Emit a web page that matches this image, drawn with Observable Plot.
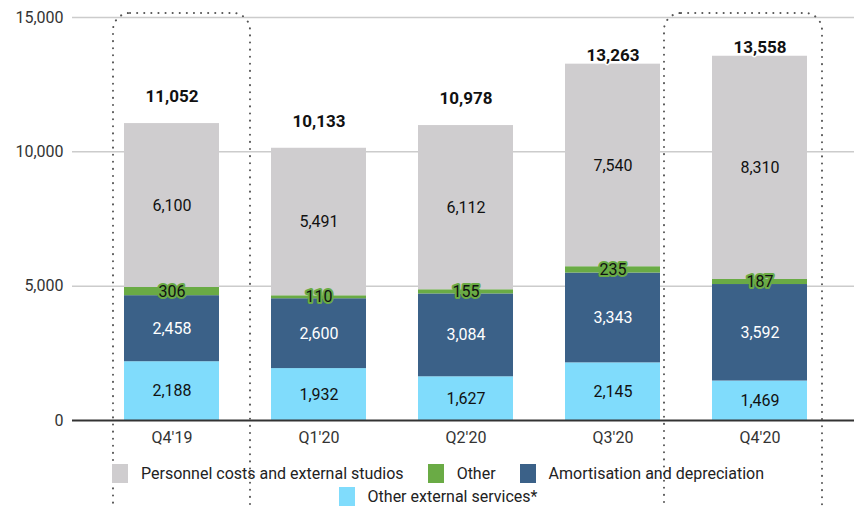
<!DOCTYPE html>
<html>
<head>
<meta charset="utf-8">
<script src="https://cdn.jsdelivr.net/npm/d3@7"></script>
<script src="https://cdn.jsdelivr.net/npm/@observablehq/plot@0.6"></script>
<style>
  body { margin: 0; background: #fff; font-family: Roboto, "Noto Sans", sans-serif; overflow: hidden; }
  #wrap { position: relative; width: 854px; height: 507px; }
  .legend { position: absolute; left: 0; width: 876px; display: flex; justify-content: center; gap: 24px; font-size: 16px; color: #222; }
  .item { display: flex; align-items: center; gap: 13px; white-space: nowrap; }
  .sw { width: 16px; height: 19px; display: inline-block; }
</style>
</head>
<body>
<div id="wrap"></div>
<script>
const quarters = ["Q4'19", "Q1'20", "Q2'20", "Q3'20", "Q4'20"];
const otherExternal = [2188, 1932, 1627, 2145, 1469];
const amortisation = [2458, 2600, 3084, 3343, 3592];
const otherCosts = [306, 110, 155, 235, 187];
const personnel = [6100, 5491, 6112, 7540, 8310];
const totals = [11052, 10133, 10978, 13263, 13558];
const seriesNames = ["Other external services*", "Amortisation and depreciation", "Other", "Personnel costs and external studios"];
const seriesColors = ["#80dcfc", "#3b6188", "#6aab45", "#cfcdcf"];
const legendOrder = ["Personnel costs and external studios", "Other", "Amortisation and depreciation", "Other external services*"];
const yTicks = [0, 5000, 10000, 15000];
const highlighted = ["Q4'19", "Q4'20"];

const seriesValues = [otherExternal, amortisation, otherCosts, personnel];
const rows = [];
seriesNames.forEach((s, si) => quarters.forEach((q, qi) => rows.push({s, q, v: seriesValues[si][qi]})));
const totalRows = quarters.map((q, i) => ({q, v: totals[i]}));
const fmt = d3.format(",");

// annotation box extent (data units)
const boxTop = 15150, boxBottom = -4000;

function labels(name, fill, extra = {}) {
  return Plot.text(rows, Plot.filter(d => d.s === name, Plot.stackY({
    x: "q", y: "v", z: "s", order: seriesNames,
    text: d => fmt(d.v),
    fill, fontSize: 16, ...extra
  })));
}

const chart = Plot.plot({
  width: 854,
  height: 507,
  marginLeft: 72,
  marginRight: 0,
  marginTop: 17,
  marginBottom: 87,
  style: {fontFamily: "Roboto, sans-serif", fontSize: "16px", color: "#333", background: "white"},
  x: {domain: quarters, range: [98, 833], paddingInner: 0.355, paddingOuter: 0.1775, label: null},
  y: {domain: [0, 15000], label: null},
  color: {domain: seriesNames, range: seriesColors},
  marks: [
    Plot.ruleY(yTicks.filter(d => d > 0), {stroke: "#cccccc", strokeWidth: 1.5}),
    Plot.axisY({ticks: yTicks, tickFormat: fmt, tickSize: 0, tickPadding: 9, fontSize: 16, fill: "#333", label: null}),
    Plot.axisX({tickSize: 0, tickPadding: 11, fontSize: 16, fill: "#333", label: null}),
    Plot.barY(rows, Plot.stackY({x: "q", y: "v", z: "s", fill: "s", order: seriesNames})),
    Plot.ruleY([0], {stroke: "#333", strokeWidth: 2}),
    labels("Other external services*", "#111"),
    labels("Amortisation and depreciation", "white"),
    labels("Other", "#111", {stroke: "#6aab45", strokeWidth: 4}),
    labels("Personnel costs and external studios", "#111"),
    Plot.text(totalRows, {x: "q", y: "v", text: d => fmt(d.v), filter: (d, i) => i < 3, dy: -27, fontSize: 17, fontWeight: "bold", fill: "#111", stroke: "white", strokeWidth: 3}),
    Plot.text(totalRows, {x: "q", y: "v", text: d => fmt(d.v), filter: (d, i) => i >= 3, dy: -9, fontSize: 17, fontWeight: "bold", fill: "#111", stroke: "white", strokeWidth: 3}),
    Plot.rect([highlighted[0]], {x: d => d, y1: boxBottom, y2: boxTop, insetLeft: -11, insetRight: -31, rx: 17, fill: "none", stroke: "#555", strokeWidth: 2, strokeDasharray: "0.1 7", strokeLinecap: "round"}),
    Plot.rect([highlighted[1]], {x: d => d, y1: boxBottom, y2: boxTop, insetLeft: -48, insetRight: -15, rx: 17, fill: "none", stroke: "#555", strokeWidth: 2, strokeDasharray: "0.1 7", strokeLinecap: "round"})
  ]
});
const wrap = document.getElementById("wrap");
wrap.appendChild(chart);

function legendRow(names, top) {
  const row = document.createElement("div");
  row.className = "legend";
  row.style.top = top + "px";
  names.forEach(n => {
    const it = document.createElement("div");
    it.className = "item";
    const sw = document.createElement("span");
    sw.className = "sw";
    sw.style.background = seriesColors[seriesNames.indexOf(n)];
    const t = document.createElement("span");
    t.textContent = n;
    it.appendChild(sw); it.appendChild(t);
    row.appendChild(it);
  });
  wrap.appendChild(row);
}
legendRow(legendOrder.slice(0, 3), 464);
legendRow(legendOrder.slice(3), 487);
</script>
</body>
</html>
